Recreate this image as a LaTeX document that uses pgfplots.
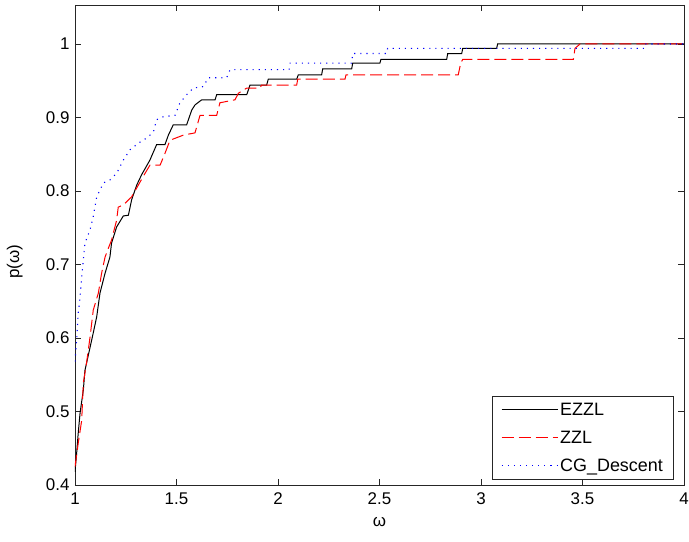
\documentclass[border=0pt]{standalone}
\usepackage{fontspec}
\setmainfont{Liberation Sans}
\usepackage{pgfplots}
\pgfplotsset{compat=1.18}
\usetikzlibrary{calc}

\begin{document}
\begin{tikzpicture}
\begin{axis}[
  scale only axis, width=609bp, height=480bp,
  xmin=1, xmax=4, ymin=0.4, ymax=1.053,
  xtick={1,1.5,2,2.5,3,3.5,4},
  ytick={0.4,0.5,0.6,0.7,0.8,0.9,1},
  tick align=inside, major tick length=6bp,
  tick style={black!85, line width=0.8bp},
  axis line style={black!85, line width=0.8bp},
  /pgf/number format/assume math mode=true,
  tick label style={font=\fontsize{17}{19}\selectfont},
  xticklabel style={yshift=-4bp},
  yticklabel style={xshift=-2bp},
  xlabel={ω}, ylabel={p(ω)},
  label style={font=\fontsize{17}{19}\selectfont},
  xlabel style={at={(axis description cs:0.5,-0.077)}, anchor=center},
  ylabel style={at={(axis description cs:-0.099,0.465)}, anchor=center, rotate=0},
  legend cell align=left,
  legend style={at={(0.984,0.0104)}, anchor=south east,
    font=\fontsize{18}{20}\selectfont, draw=black!85, line width=0.8bp,
    inner xsep=9bp, inner ysep=5bp, row sep=10bp},
  legend image code/.code={\draw[#1] (0bp,0bp) -- (56bp,0bp);},
]
\addplot[black, line width=1bp] coordinates {
(1.0,0.418) (1.008,0.443) (1.016,0.471) (1.025,0.498) (1.041,0.529) (1.049,0.556)
(1.066,0.577) (1.09,0.607) (1.107,0.629) (1.123,0.661) (1.148,0.688) (1.172,0.710)
(1.18,0.729) (1.205,0.751) (1.238,0.766) (1.263,0.767) (1.279,0.788) (1.304,0.808)
(1.328,0.822) (1.369,0.842) (1.402,0.863) (1.443,0.863) (1.46,0.876) (1.484,0.89)
(1.55,0.89) (1.575,0.910) (1.591,0.917) (1.624,0.924) (1.69,0.924) (1.698,0.931)
(1.846,0.931) (1.862,0.944) (1.944,0.944) (1.952,0.952) (2.092,0.952) (2.1,0.958)
(2.215,0.958) (2.22,0.966) (2.363,0.966) (2.368,0.974) (2.502,0.974) (2.507,0.979)
(2.831,0.979) (2.836,0.987) (2.905,0.987) (2.91,0.994) (3.077,0.994) (3.082,1.0)
(4,1.0)};
\addlegendentry{EZZL}
\addplot[red, line width=1bp, dash pattern=on 12bp off 5bp] coordinates {
(1.0,0.425) (1.016,0.457) (1.033,0.488) (1.041,0.539) (1.057,0.566) (1.074,0.601)
(1.09,0.638) (1.115,0.661) (1.131,0.688) (1.148,0.710) (1.164,0.722) (1.18,0.733)
(1.189,0.743) (1.205,0.76) (1.213,0.778) (1.238,0.781) (1.279,0.792) (1.312,0.808)
(1.345,0.824) (1.369,0.835) (1.419,0.835) (1.443,0.851) (1.468,0.869) (1.534,0.876)
(1.591,0.879) (1.616,0.903) (1.698,0.903) (1.714,0.920) (1.788,0.924) (1.805,0.933)
(1.846,0.940) (1.911,0.940) (1.919,0.944) (2.092,0.944) (2.097,0.952) (2.33,0.952)
(2.335,0.958) (2.888,0.958) (2.9,0.974) (2.91,0.979) (3.455,0.979) (3.463,0.994)
(3.488,1.0) (4,1.0)};
\addlegendentry{ZZL}
\addplot[blue, line width=1.1bp, dash pattern=on 1.1bp off 5bp] coordinates {
(1.0,0.568) (1.008,0.597) (1.016,0.634) (1.025,0.656) (1.033,0.683) (1.041,0.706)
(1.049,0.729) (1.074,0.747) (1.09,0.765) (1.107,0.792) (1.14,0.811) (1.172,0.815)
(1.205,0.824) (1.238,0.842) (1.271,0.856) (1.312,0.865) (1.353,0.872) (1.386,0.880)
(1.402,0.897) (1.435,0.901) (1.493,0.903) (1.517,0.920) (1.55,0.931) (1.583,0.940)
(1.632,0.942) (1.657,0.954) (1.747,0.954) (1.764,0.965) (2.055,0.965) (2.06,0.974)
(2.363,0.974) (2.368,0.987) (2.535,0.987) (2.54,0.994) (3.8,0.994) (3.805,1.0)
(4,1.0)};
\addlegendentry{CG\_Descent}
\end{axis}
\pgfresetboundingbox
\path ($(current axis.south west)+(-75bp,-57bp)$) rectangle ($(current axis.north east)+(5bp,5bp)$);
\end{tikzpicture}
\end{document}
